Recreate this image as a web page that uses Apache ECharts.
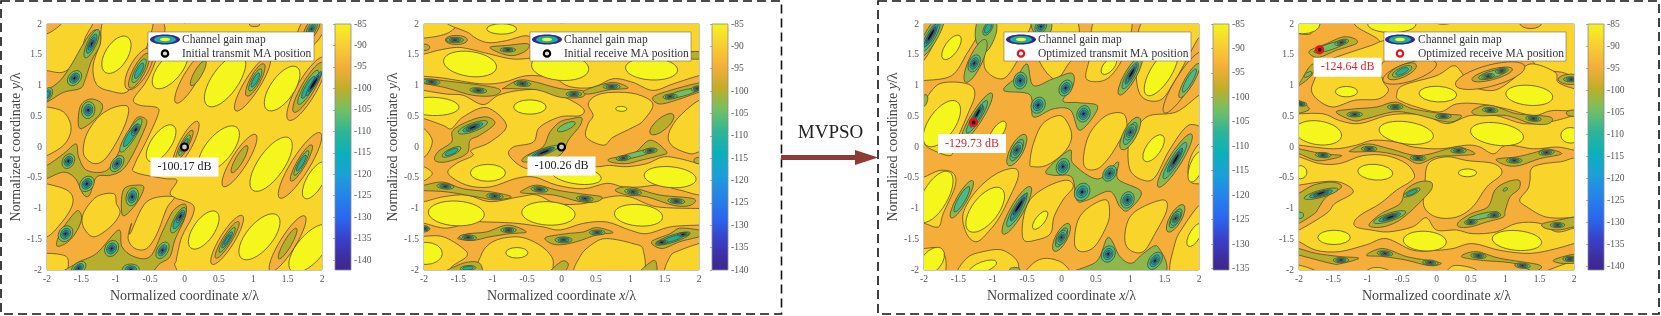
<!DOCTYPE html>
<html><head><meta charset="utf-8">
<style>html,body{margin:0;padding:0;background:#fff}#c{width:1661px;height:316px}canvas{filter:blur(.45px)}</style>
<script src="https://cdn.jsdelivr.net/npm/echarts@6/dist/echarts.min.js"></script>
</head><body><div id="c"></div>
<script>
const panel1Contours=[
[-96,[[-2.1,2.1],[-.42,2.1],[-.4,1.51],[-.55,1.08],[-.74,.78],[-.65,.68],[-.4,.64],[-.39,.51],[-.55,.11],[-.72,-.27],[-.72,-.41],[-.31,-.51],[-.11,-.54],[-.21,-.75],[-.11,-.84],[-.04,-.86],[.13,-.95],[.11,-1.14],[-.04,-1.46],[-.11,-1.78],[-.14,-1.89],[-.31,-2.1],[-2.1,-2.1]]],
[-92,[[-2.1,1.9],[-2,1.84],[-1.79,2],[-1.75,2.1],[-1.33,2.1],[-1.45,1.76],[-1.54,1.43],[-1.76,1.22],[-2,1.24],[-2.1,1.24]]],
[-92,[[-1.13,2.1],[-1.23,1.68],[-1.33,1.32],[-1.28,1.02],[-1.08,.91],[-.82,.91],[-.65,1.35],[-.53,1.7],[-.5,2.1]]],
[-92,[[-2.1,.65],[-2,.65],[-1.76,.57],[-1.65,.32],[-1.74,.05],[-2,-.14],[-2.1,-.14]]],
[-92,[[-1.47,0],[-1.41,.24],[-1.23,.51],[-1.01,.65],[-.82,.65],[-.86,.38],[-1.03,0],[-1.18,-.22],[-1.32,-.27],[-1.45,-.16]]],
[-92,[[-2.1,-.6],[-2,-.6],[-1.71,-.7],[-1.62,-.86],[-1.69,-1.08],[-1.88,-1.35],[-2,-1.46],[-2.1,-1.46]]],
[-92,[[-1.47,-1.3],[-1.47,-1.08],[-1.28,-.81],[-1.03,-.76],[-.99,-.92],[-.94,-1.08],[-1.08,-1.3],[-1.32,-1.46]]],
[-92,[[-2.1,-1.76],[-1.76,-1.76],[-1.69,-1.89],[-1.76,-2.1],[-2.1,-2.1]]],
[-92,[[-.79,-1.41],[-.55,-.89],[-.16,-.81],[-.26,-1],[-.4,-1.41],[-.55,-1.65],[-.72,-1.65],[-.82,-1.49],[-.77,-1.24]]],
[-96,.08,1.11,.43,.11,60],[-96,.99,1.03,.49,.12,58],[-96,1.78,.95,.56,.15,60],[-96,.02,.05,.39,.1,62],[-96,.8,-.22,.47,.12,58],[-96,1.68,-.3,.59,.14,58],[-96,.62,-1.51,.44,.11,58],[-96,1.5,-1.57,.5,.12,58],[-96,1.85,1.92,.35,.18,60],[-96,1.02,2,.08,.04,0],[-96,-.66,1.27,.36,.14,60],
[-87,-.99,1.5,.32,.17,58],[-87,-.21,1.27,.37,.17,50],[-87,.59,1.08,.47,.2,55],[-87,1.42,.95,.4,.18,55],[-87,-.34,.06,.33,.15,55],[-87,.5,-.03,.43,.2,50],[-87,1.26,-.28,.49,.2,55],[-87,1.9,-.54,.32,.13,60],[-87,.28,-1.35,.34,.16,55],[-87,1.09,-1.46,.43,.2,50],[-87,1.83,-1.65,.45,.2,50],
[-100,[[-2.1,.93],[-2,.93],[-1.81,1.08],[-1.64,1.35],[-1.47,1.68],[-1.33,1.89],[-1.23,1.86],[-1.23,1.65],[-1.35,1.41],[-1.45,1.08],[-1.52,.95],[-1.76,.89],[-2,.73],[-2.1,.73]]],
[-100,[[-2.1,-.3],[-2,-.3],[-1.76,-.11],[-1.58,.05],[-1.54,-.16],[-1.42,-.38],[-1.13,-.38],[-.94,-.05],[-.77,.35],[-.67,.49],[-.55,.43],[-.6,.24],[-.77,-.16],[-.91,-.38],[-1.08,-.46],[-1.28,-.49],[-1.38,-.78],[-1.47,-.77],[-1.59,-.51],[-1.76,-.41],[-2,-.51],[-2.1,-.51]]],
[-100,[[-1.52,.65],[-1.37,.78],[-1.2,.7],[-1.25,.51],[-1.52,.3]]],
[-100,[[-.89,-.7],[-.69,-.62],[-.59,-.67],[-.72,-.95],[-.9,-1.11]]],
[-100,[[-1.86,-1.6],[-1.79,-1.36],[-1.59,-1.06],[-1.52,-1.06],[-1.5,-1.19],[-1.59,-1.41],[-1.73,-1.57]]],
[-100,[[-1.75,-2.1],[-1.57,-1.89],[-1.28,-1.73],[-.96,-1.35],[-.91,-1.62],[-.74,-1.78],[-.5,-1.78],[-.31,-1.35],[-.16,-1.03],[.01,-.93],[.01,-1.14],[-.14,-1.51],[-.21,-1.78],[-.35,-1.89],[-.65,-2.1]]]
];
const panel1Wells=[
[-105,-1.35,1.68,.24,.07,65,-140],[-105,-1.6,1.12,.13,.09,50,-140],[-105,-2,.85,.12,.07,60,-118],[-105,-1.4,.6,.13,.1,80,-140],
[-105,-.78,.19,.3,.07,58,-111],[-111,-.71,.28,.1,.05,58,-140],[-105,-1.69,-.23,.12,.09,60,-140],[-105,-.98,-.27,.14,.08,55,-140],[-105,-1.42,-.6,.13,.1,50,-140],[-105,-.76,-.81,.14,.09,75,-140],
[-105,-.09,-1.19,.22,.07,62,-111],[-111,-.06,-1.13,.11,.045,62,-140],[-105,-1.73,-1.41,.13,.1,55,-140],[-105,-1.06,-1.65,.13,.1,60,-140],[-105,-.32,-1.68,.14,.08,58,-140],[-105,-1.54,-1.97,.13,.08,40,-140],[-105,-.78,-1.99,.13,.08,0,-140],
[-100,-.66,1.24,.3,.09,62,-111],[-100,.2,1.2,.22,.06,60,-100],[-100,1.03,1.09,.28,.08,62,-111],[-100,1.8,.97,.44,.1,60,-111],[-118,1.88,1.03,.22,.035,58,-140],[-100,1.85,1.92,.2,.09,60,-140],
[-100,.8,-.2,.24,.06,60,-100],[-100,1.7,-.26,.32,.07,60,-111],[-100,.62,-1.51,.33,.07,58,-118],[-100,1.5,-1.57,.27,.06,60,-100],[-100,0,.03,.26,.06,62,-111]
];
const panel2Contours=[
[-92,[[-2.1,1.77],[-2,1.77],[-1.77,1.81],[-1.6,1.89],[-1.46,2.1],[-2.1,2.1]]],
[-92,[[-1.44,2.1],[-1.33,1.84],[-1.09,1.7],[-.8,1.73],[-.51,1.81],[-.3,1.7],[.4,1.75],[1.2,1.65],[1.7,1.58],[2.1,1.58],[2.1,2.1]]],
[-92,[[-2.1,1.51],[-2,1.51],[-1.8,1.57],[-1.53,1.62],[-1.33,1.59],[-1.04,1.51],[-.7,1.43],[-.36,1.46],[-.3,1.5],[.5,1.5],[1.5,1.45],[2.1,1.42],[2.1,1.16],[2,1.16],[1.63,1.03],[1.33,.92],[1.04,1.05],[.75,1.11],[.46,.97],[.12,.98],[-.12,1.12],[-.51,1.16],[-.85,1.05],[-1.19,1.03],[-1.72,1.12],[-2,1.15],[-2.1,1.15]]],
[-92,[[-2.1,.95],[-2,.92],[-1.67,.86],[-1.43,.84],[-1.14,.69],[-.92,.84],[-.61,.92],[-.22,.93],[.1,.78],[.32,.62],[.27,.51],[-.02,.49],[-.32,.32],[-.41,.08],[-.7,0],[-.76,-.14],[-.51,-.35],[-.12,-.32],[.27,-.27],[.51,-.32],[.7,-.3],[.95,-.32],[1.24,-.27],[1.48,-.16],[1.72,-.19],[2,-.27],[2.1,-.27],[2.1,-.76],[1.72,-.7],[1.43,-.62],[1.14,-.65],[.9,-.65],[.66,-.59],[.32,-.68],[-.07,-.62],[-.39,-.49],[-.66,-.51],[-1.04,-.65],[-1.38,-.62],[-1.65,-.43],[-1.53,-.27],[-1.29,-.14],[-1.31,-.05],[-1.04,.08],[-.8,.35],[-1.09,.64],[-1.43,.49],[-1.6,.3],[-1.72,.35],[-2,.46],[-2.1,.46]]],
[-92,[[.39,.7],[.51,.84],[.75,.89],[1.09,.86],[1.33,.7],[1.19,.43],[1.04,.32],[.75,.16],[.61,.03],[.36,.16],[.39,.38],[.46,.51]]],
[-92,[[2.1,.76],[2,.76],[1.8,.59],[1.63,.38],[1.55,.16],[1.63,0],[1.87,-.11],[2,-.08],[2.1,-.08]]],
[-92,[[-2.1,.3],[-2,.3],[-1.88,.1],[-1.97,-.14],[-2.1,-.14]]],
[-92,[[-2.1,-.32],[-2,-.32],[-1.88,-.43],[-2,-.55],[-2.1,-.55]]],
[-92,[[-2.1,-.89],[-2,-.89],[-1.72,-.81],[-1.38,-.78],[-1.04,-.89],[-.61,-.81],[-.36,-.78],[-.07,-.92],[.32,-.92],[.7,-.81],[.99,-.81],[1.38,-.97],[2,-1],[2.1,-1],[2.1,-1.27],[2,-1.27],[1.58,-1.3],[1.24,-1.41],[.99,-1.35],[.66,-1.22],[.32,-1.24],[-.02,-1.35],[-.27,-1.3],[-.66,-1.24],[-1.09,-1.22],[-1.33,-1.22],[-1.67,-1.32],[-2,-1.24],[-2.1,-1.24]]],
[-92,[[-2.1,-1.45],[-2,-1.45],[-1.72,-1.46],[-1.43,-1.65],[-1.38,-1.78],[-1.6,-1.95],[-1.65,-2.1],[-2.1,-2.1]]],
[-92,[[-1.17,-2.1],[-1.17,-1.76],[-1,-1.54],[-.7,-1.46],[-.46,-1.51],[-.22,-1.68],[-.12,-1.89],[-.27,-2.1]]],
[-92,[[.24,-2.1],[.27,-1.78],[.46,-1.57],[.66,-1.49],[1.04,-1.57],[1.19,-1.68],[1.12,-2.1]]],
[-92,[[1.53,-2.1],[1.58,-1.78],[1.72,-1.68],[2,-1.57],[2.1,-1.57],[2.1,-2.1]]],
[-87,-1.33,1.35,.41,.19,-8],[-87,-.02,1.3,.44,.2,-5],[-87,1.31,1.27,.4,.17,-3],[-87,-.87,1.92,.23,.08,0],[-87,-1.87,.66,.4,.14,-2],[-87,-.46,.65,.25,.11,0],[-87,.87,.62,.085,.035,0],[-87,-1.07,-.42,.27,.13,0],[-87,.22,-.46,.38,.13,-8],[-87,1.58,-.49,.4,.16,-5],[-87,-1.53,-1.08,.43,.19,-3],[-87,-.19,-1.08,.41,.18,-3],[-87,1.12,-1.11,.37,.16,-5],[-87,-1.97,-1.73,.25,.17,0],[-87,-.65,-1.72,.17,.08,0],
[-100,[[-2.1,1.1],[-2,1.11],[-1.72,1.08],[-.95,.96],[-.97,.84],[-1.29,.84],[-1.67,.96],[-2,1.03],[-2.1,1.03]]],
[-100,[[-.84,.96],[-.61,1.09],[-.36,1.05],[-.02,.95],[.32,.91],[.29,.81],[-.02,.81],[-.36,.93],[-.8,.95]]],
[-100,[[.34,.92],[.73,1.05],[.97,.96],[.7,.93],[.39,.86]]],
[-100,[[1.33,.81],[1.58,.92],[2,1.04],[2.1,1],[2.1,.88],[2,.89],[1.72,.78],[1.43,.7]]],
[-100,-1.53,1.74,.17,.07,0],
[-100,[[-1.04,1.62],[-.8,1.65],[-.49,1.68],[-.51,1.57],[-.68,1.49],[-.85,1.51]]],
[-100,[[-1.09,.49],[-.97,.38],[-1.19,.19],[-1.33,.11],[-1.38,-.11],[-1.67,-.24],[-1.84,-.22],[-1.8,-.08],[-1.6,.08],[-1.58,.27],[-1.33,.43]]],
[-100,[[.15,.46],[.29,.48],[.27,.35],[.1,.11],[0,-.11],[-.22,-.22],[-.56,-.24],[-.51,-.14],[-.27,0],[-.17,.24],[-.02,.41]]],
[-100,1.46,.37,.23,.09,40],
[-100,[[.7,-.19],[1.04,-.11],[1.29,.11],[1.53,-.08],[1.43,-.14],[1.14,-.22],[.95,-.27],[.73,-.25]]],
[-100,[[-2.1,-.62],[-2,-.62],[-1.72,-.57],[-1.43,-.68],[-1.02,-.73],[-.73,-.81],[-.97,-.86],[-1.24,-.81],[-1.67,-.73],[-2,-.71],[-2.1,-.71]]],
[-100,[[-.56,-.7],[-.36,-.62],[-.07,-.7],[.27,-.76],[.58,-.81],[.51,-.89],[.27,-.89],[-.12,-.78],[-.56,-.75]]],
[-100,[[.78,-.7],[.99,-.65],[1.43,-.78],[1.92,-.84],[1.87,-.95],[1.63,-.95],[1.24,-.81],[.95,-.78]]],
[-100,[[-1.5,-1.47],[-1.36,-1.41],[-1.09,-1.38],[-.78,-1.27],[-.51,-1.38],[-.75,-1.41],[-1.04,-1.46],[-1.29,-1.52],[-1.48,-1.5]]],
[-100,[[-.23,-1.47],[.07,-1.41],[.32,-1.38],[.51,-1.31],[.75,-1.39],[.51,-1.43],[.22,-1.54],[-.02,-1.59],[-.17,-1.56]]],
[-100,[[1.31,-1.54],[1.58,-1.41],[1.72,-1.32],[2,-1.35],[2.1,-1.4],[2,-1.46],[1.72,-1.54],[1.46,-1.65]]],
[-100,-2,-1.33,.08,.05,0],[-100,-2,1.62,.09,.05,0],[-100,1.95,1.49,.17,.06,0],[-100,2,-.22,.08,.05,0],
[-100,[[-1.77,-2.1],[-1.43,-1.89],[-1.19,-1.89],[-1.21,-2.1]]],
[-100,[[-.22,-2.1],[0,-1.86],[.1,-1.92],[-.02,-2.1]]],
[-100,[[1.09,-2.1],[1.31,-1.86],[1.38,-1.89],[1.36,-2.1]]]
];
const panel2Wells=[
[-105,-1.55,1.74,.13,.04,0,-140],[-105,-.78,1.58,.12,.035,0,-140],[-105,-1.89,1.06,.13,.04,-5,-140],[-105,-1.21,.92,.13,.04,-5,-140],[-105,-.57,1.03,.13,.04,-5,-140],[-105,.18,.86,.12,.04,0,-140],[-105,.73,.98,.13,.04,0,-140],
[-105,1.75,.87,.27,.045,15,-105],[-105,1.58,.82,.11,.04,5,-140],[-105,1.97,.95,.09,.04,10,-140],
[-105,-1.69,-.64,.13,.04,-5,-140],[-105,-.97,-.8,.13,.04,-5,-140],[-105,-.32,-.69,.13,.04,-5,-140],[-105,.34,-.84,.13,.04,-5,-140],[-105,1.04,-.73,.13,.04,-8,-140],[-105,1.67,-.88,.13,.04,-5,-140],
[-105,-1.36,-1.47,.13,.04,-5,-140],[-105,-.77,-1.35,.12,.04,0,-140],[-105,.03,-1.51,.13,.045,0,-140],[-105,.52,-1.39,.12,.04,0,-140],[-105,1.62,-1.49,.28,.055,18,-111],[-111,1.46,-1.55,.09,.03,5,-140],[-111,1.77,-1.42,.09,.03,5,-140],[-105,-1.36,-1.97,.12,.04,5,-111],[-105,-1.98,-1.33,.07,.03,0,-140],
[-105,-1.29,.32,.24,.065,20,-118],[-118,-1.29,.32,.11,.025,20,-140],[-105,-1.6,-.08,.16,.05,25,-111],[-105,.07,.33,.15,.05,25,-105],[-105,-.27,-.08,.26,.05,20,-118],[-118,-.25,-.08,.17,.025,22,-140],
[-105,1.09,-.12,.32,.04,14,-105],[-105,.9,-.18,.11,.04,5,-140],[-105,1.29,-.06,.11,.04,5,-140]
];
const panel3Contours=[
[-92,[[-2.1,.76],[-2,.76],[-1.77,1.03],[-1.38,1.03],[-1.26,.86],[-1.38,.49],[-1.55,.05],[-1.62,-.14],[-1.91,-.03],[-2,.05],[-2.1,.05]]],
[-92,[[-1.74,2.1],[-1.86,1.68],[-2,1.41],[-2.1,1.3],[-2.1,1.08],[-2,1.08],[-1.6,1.16],[-1.38,1.51],[-1.21,1.84],[-1.14,2.1]]],
[-92,[[-.94,2.1],[-1.09,1.68],[-1.11,1.27],[-.85,1.11],[-.63,1.43],[-.51,1.78],[-.46,2.1]]],
[-92,[[-.35,1.5],[-.1,1.1],[.1,1.35],[.25,1.6],[.2,2.1],[-.25,2.1]]],
[-92,[[.41,1.46],[.36,1.11],[.61,1.08],[.8,1.27],[.95,1.62],[1,2.1],[.5,2.1]]],
[-92,[[1.24,2.1],[1.09,1.46],[1.14,.86],[1.43,.76],[1.65,1.08],[1.84,1.46],[2,1.78],[2.1,1.8],[2.1,2.1]]],
[-92,[[1.09,.32],[1.28,.51],[1.67,.57],[2,.84],[2.1,.84],[2.1,.35],[1.84,.35],[1.57,-.05],[1.36,-.49],[1.19,-.54],[1,-.38],[.97,0],[1.04,.22]]],
[-92,[[2.1,.05],[2,.05],[1.88,-.16],[1.84,-.38],[1.88,-.57],[2,-.6],[2.1,-.6]]],
[-92,[[-.46,-.27],[-.41,.05],[-.27,.38],[-.02,.51],[.12,.32],[.14,.11],[.02,-.11],[-.22,-.3],[-.41,-.32]]],
[-92,[[.32,-.16],[.41,.22],[.65,.51],[.9,.54],[.95,.3],[.85,.11],[.7,-.16],[.53,-.35],[.36,-.35]]],
[-92,[[-2.1,-.49],[-2,-.49],[-1.77,-.38],[-1.57,-.43],[-1.55,-.65],[-1.72,-1.08],[-1.79,-1.3],[-2,-1.24],[-2.1,-1.24]]],
[-92,[[-1.38,-1.41],[-1.43,-1.08],[-1.23,-.7],[-.94,-.43],[-.68,-.35],[-.63,-.49],[-.75,-.81],[-.9,-1.14],[-1.04,-1.35],[-1.23,-1.54]]],
[-92,[[-.55,-1.51],[-.36,-1.51],[-.16,-1.41],[-.11,-1.14],[.02,-.86],[.17,-.65],[.07,-.54],[-.22,-.65],[-.46,-.86],[-.56,-1.19]]],
[-92,[[.19,-1.57],[.24,-1.19],[.41,-.97],[.65,-.86],[.7,-1.08],[.65,-1.3],[.48,-1.62],[.29,-1.7]]],
[-92,[[.92,-1.51],[.97,-1.19],[1.14,-1],[1.48,-.86],[1.53,-1.03],[1.36,-1.41],[1.19,-1.7],[1,-1.68]]],
[-92,[[2.1,-.97],[2,-.95],[1.77,-1.3],[1.65,-1.57],[1.6,-2.1],[2.1,-2.1]]],
[-92,[[-2.1,-1.65],[-2,-1.65],[-1.77,-1.65],[-1.68,-1.86],[-1.74,-2.1],[-2.1,-2.1]]],
[-92,[[-1.48,-2.1],[-1.38,-1.81],[-1.14,-1.7],[-.85,-1.68],[-.63,-1.89],[-.75,-2.1]]],
[-92,[[-.51,-2.1],[-.41,-1.89],[-.22,-1.81],[.02,-1.89],[.1,-2.1]]],
[-96,1.77,1.05,.55,.12,58],
[-87,-1.6,1.62,.22,.1,55],[-87,-1.74,.38,.41,.2,55],[-87,-.93,.24,.2,.08,55],[-87,-1.84,-.81,.44,.19,60],[-87,-1.11,-1.02,.41,.2,52],[-87,-.31,-1.19,.17,.07,52],[-87,-1.89,-1.86,.25,.15,50],[-87,-1.14,-1.95,.22,.08,20],[-87,.69,1.32,.16,.08,50],[-87,1.45,1.22,.42,.16,58],[-87,1.34,-.02,.24,.11,55],[-87,1.96,-.32,.25,.1,70],[-87,1.94,-1.43,.2,.08,60],
[-100,[[-.84,.92],[-.65,1.14],[-.5,1.35],[-.41,1],[-.12,1.11],[.15,1.2],[.17,1],[.02,.75],[.25,.72],[.53,.65],[.27,.27],[.13,.6],[-.12,.62],[-.41,.49],[-.46,.85]]],
[-100,[[-.22,-.38],[.12,-.05],[.17,-.27],[.53,-.52],[.82,-.24],[.82,-.52],[1.16,-.73],[.97,-1.03],[.85,-.97],[.7,-.72],[.36,-.87],[.22,-.86],[.15,-.49],[-.12,-.46]]],
[-100,[[.1,-2.1],[.51,-1.86],[.68,-1.47],[.85,-1.78],[1.02,-1.89],[1.19,-1.73],[1.4,-1.62],[1.44,-2.1]]],
[-100,[[-1.2,2.1],[-.98,2.1],[-.95,1.85],[-1.1,1.55],[-1.25,1.75]]],
[-100,[[-.42,2.1],[-.18,2.1],[-.15,1.9],[-.28,1.78],[-.42,1.9]]]
];
const panel3Wells=[
[-100,-1.25,1.4,.36,.1,65,-100],[-105,-1.27,1.36,.14,.08,65,-140],[-100,-1.9,1.8,.38,.1,60,-111],[-118,-1.9,1.82,.22,.035,60,-140],
[-105,-.6,1.08,.13,.1,80,-140],[-105,.06,.96,.13,.09,60,-140],[-105,-.34,.68,.13,.1,60,-140],[-105,.32,.54,.13,.1,70,-140],
[-100,1,.22,.28,.1,62,-105],[-105,1,.24,.13,.07,62,-140],[-100,-.65,-.05,.27,.1,62,-105],[-105,-.65,-.05,.13,.07,62,-140],
[-105,.02,-.32,.13,.1,70,-140],[-105,.7,-.43,.13,.09,55,-140],[-105,.3,-.73,.14,.11,60,-140],[-105,.96,-.86,.13,.1,70,-140],
[-100,-.65,-1.03,.42,.1,60,-111],[-118,-.62,-.96,.24,.035,58,-140],[-100,-1.45,-.85,.33,.08,60,-105],
[-100,0,-1.47,.24,.09,62,-105],[-105,0,-1.47,.12,.07,62,-140],[-100,1.66,-1.16,.24,.09,60,-105],[-105,1.66,-1.16,.12,.06,60,-140],
[-105,.68,-1.74,.13,.1,65,-140],[-105,1.36,-1.85,.15,.09,55,-140],[-100,-.68,-2,.08,.04,0,-100],
[-100,1.65,-.22,.48,.1,58,-111],[-118,1.66,-.2,.2,.03,60,-140],[-100,1,1.16,.34,.09,60,-111],[-118,1.02,1.2,.16,.03,60,-140],[-100,1.86,1.08,.3,.07,60,-105],
[-100,-2,.75,.1,.05,70,-100],[-100,-1.23,.49,.43,.09,58,-111],[-118,-1.22,.55,.15,.03,60,-140],[-105,-.3,1.96,.12,.08,60,-140],[-105,-1.07,1.93,.12,.06,60,-111]
];
const panel4Contours=[
[-92,[[-2.1,1.84],[-2,1.84],[-1.82,1.85],[-1.72,2.1],[-2.1,2.1]]],
[-92,[[-1,2.1],[-.85,1.75],[-.55,1.55],[.2,1.75],[1,1.7],[1.35,1.45],[1.5,1.28],[1.8,1.22],[2.1,1.22],[2.1,2.1]]],
[-92,[[-1.77,1.11],[-1.7,1.35],[-1.46,1.46],[-1.17,1.57],[-.95,1.65],[-.73,1.73],[-.5,1.6],[-.8,1.35],[-.78,1.08],[-.7,.92],[-.85,.78],[-1.19,.76],[-1.5,.65],[-1.72,.76],[-1.82,.92]]],
[-92,[[-.58,.84],[-.49,1],[0,1.16],[.24,1.32],[.36,1.22],[.49,1],[.83,.92],[1.12,1.11],[1.36,1.35],[1.72,1.22],[1.77,1.05],[2,.95],[2.1,.95],[2.1,.62],[1.67,.59],[1.41,.51],[1.02,.62],[.63,.7],[.29,.7],[.05,.57],[-.29,.65],[-.54,.76]]],
[-96,.78,1.16,.55,.16,15],[-96,-.39,1.22,.43,.14,18],[-96,1.37,2.02,.17,.09,0],[-96,.1,2.05,.15,.05,0],
[-92,[[-2.1,.54],[-2,.54],[-1.65,.54],[-1.41,.43],[-1.12,.38],[-.73,.51],[-.44,.54],[-.15,.51],[.15,.38],[.49,.51],[.87,.51],[1.26,.38],[1.65,.41],[2,.51],[2.1,.51],[2.1,-.05],[2,-.05],[1.75,0],[1.41,-.03],[1.02,.03],[.83,-.11],[.63,0],[.44,.03],[.05,-.03],[-.34,0],[-.58,.08],[-.92,.11],[-1.17,.03],[-1.5,-.03],[-2,.03],[-2.1,.03]]],
[-92,[[-2.1,-.16],[-2,-.16],[-1.7,-.27],[-1.41,-.27],[-1.07,-.14],[-.73,-.14],[-.44,-.27],[-.32,-.46],[-.39,-.57],[-.58,-.7],[-.82,-.92],[-1.07,-1.08],[-1.19,-1.2],[-1.17,-1.3],[-.95,-1.35],[-.7,-1.38],[-.35,-1.3],[-.15,-1.15],[0,-1.35],[.29,-1.35],[.53,-1.41],[.87,-1.38],[1.17,-1.24],[1.5,-1.24],[1.75,-1.38],[2,-1.32],[2.1,-1.32],[2.1,-1.57],[2,-1.57],[1.75,-1.65],[1.36,-1.73],[.92,-1.68],[.53,-1.57],[.24,-1.65],[0,-1.68],[-.34,-1.68],[-.73,-1.49],[-1.02,-1.59],[-1.41,-1.7],[-1.75,-1.68],[-2,-1.54],[-2.1,-1.54],[-2.1,-1.35],[-2,-1.35],[-1.6,-1.08],[-1.48,-.92],[-1.21,-.73],[-1.41,-.57],[-1.7,-.57],[-2,-.62],[-2.1,-.62]]],
[-92,[[-.12,-.27],[.15,-.16],[.44,-.22],[.83,-.27],[.95,-.43],[.73,-.65],[.53,-.97],[.29,-1.14],[0,-1.14],[-.18,-.97],[-.17,-.65]]],
[-92,[[1.36,-.54],[1.41,-.32],[1.8,-.24],[2.1,-.24],[2.1,-1.05],[2,-1.14],[1.6,-1.14],[1.31,-.97],[1.21,-.86],[1.33,-.68]]],
[-92,[[-2.1,-1.92],[-2,-1.92],[-1.78,-2],[-1.7,-2.1],[-2.1,-2.1]]],
[-92,[[-1.05,-2.1],[-.95,-1.97],[-.75,-1.98],[-.6,-2.1]]],
[-92,[[.15,-2.1],[.25,-1.93],[.55,-1.98],[.6,-2.1]]],
[-92,[[1.5,-2.1],[1.75,-1.95],[2.1,-1.85],[2.1,-2.1]]],
[-87,-1.31,.9,.17,.08,0],[-87,.02,.86,.29,.12,-3],[-87,1.35,.84,.36,.15,-5],[-87,-1.72,.23,.36,.18,-8],[-87,-.44,.23,.42,.17,-8],[-87,.88,.21,.41,.17,-8],[-87,1.95,.19,.15,.12,0],[-87,-.89,-.41,.27,.12,-5],[-87,.45,-.42,.14,.06,0],[-87,-1.98,-.41,.1,.1,0],[-87,-1.49,-1.47,.25,.11,0],[-87,-.17,-1.53,.33,.15,-3],[-87,1.17,-1.52,.38,.15,-5],[-87,-1.95,2,.27,.15,0],[-87,-.65,2,.37,.13,0],
[-100,[[-1.84,1.57],[-1.6,1.68],[-1.36,1.79],[-1.19,1.76],[-1.17,1.68],[-1.46,1.57],[-1.7,1.46],[-1.82,1.49]]],
[-100,[[-2.1,1],[-2,1.03],[-1.87,1.27],[-1.8,1.35],[-1.77,1.3],[-1.82,1.16],[-2,1]]],
[-100,[[-2.1,.76],[-2,.76],[-1.85,.62],[-2,.55],[-2.1,.55]]],
[-100,[[-1.46,.57],[-1.19,.62],[-.87,.65],[-.6,.73],[-.34,.62],[.1,.54],[.36,.51],[.24,.41],[.05,.43],[-.34,.54],[-.63,.57],[-1.02,.46],[-1.21,.43]]],
[-100,[[.52,.59],[.77,.68],[1.17,.54],[1.65,.49],[1.63,.38],[1.38,.38],[1.02,.51],[.62,.51]]],
[-100,2,.55,.12,.05,0],
[-100,[[-2.1,0],[-2,-.03],[-1.65,-.11],[-1.38,-.14],[-1.55,-.2],[-1.75,-.22],[-2,-.11],[-2.1,-.11]]],
[-100,[[-1.24,-.05],[-1,.05],[-.68,-.03],[-.26,-.14],[.17,-.03],[.34,0],[.56,-.11],[.29,-.14],[0,-.16],[-.26,-.27],[-.49,-.16],[-.83,-.08],[-1.22,-.08]]],
[-100,[[.87,-.2],[1.17,-.16],[1.46,-.08],[1.6,-.03],[1.82,-.11],[1.5,-.19],[1.21,-.3],[1.02,-.3]]],
[-100,[[-2.1,-.75],[-2,-.75],[-1.79,-.62],[-1.52,-.57],[-1.38,-.65],[-1.6,-.81],[-1.72,-1],[-1.77,-1.08],[-2,-1.24],[-2.1,-1.24]]],
[-100,[[-.97,-1.24],[-.8,-1.08],[-.53,-.92],[-.45,-.7],[-.26,-.57],[-.08,-.57],[-.08,-.7],[-.26,-.92],[-.41,-1.08],[-.58,-1.22],[-.78,-1.3],[-.95,-1.3]]],
[-100,[[.32,-1.22],[.51,-1.08],[.75,-.97],[.85,-.7],[1.02,-.57],[1.2,-.54],[1.2,-.68],[1.07,-.81],[1,-1.03],[.97,-1.14],[.73,-1.22],[.49,-1.3],[.33,-1.3]]],
[-100,[[1.54,-1.25],[1.77,-1.19],[2,-1.14],[2.1,-1.15],[2.1,-1.3],[2,-1.3],[1.77,-1.35],[1.58,-1.32]]],
[-100,[[-2.1,-1.62],[-2,-1.65],[-1.75,-1.73],[-1.41,-1.78],[-1.13,-1.81],[-1.41,-1.9],[-1.55,-1.89],[-2,-1.76],[-2.1,-1.76]]],
[-100,[[-1.02,-1.76],[-.78,-1.65],[-.44,-1.78],[-.15,-1.84],[.07,-1.89],[-.1,-1.93],[-.44,-1.84],[-.78,-1.78]]],
[-100,[[.36,-1.78],[.58,-1.7],[.92,-1.81],[1.5,-1.92],[1.41,-2.02],[1.12,-1.89],[.63,-1.84]]],
[-100,[[1.7,-1.84],[1.92,-1.76],[2.03,-1.76],[2.1,-1.85],[2,-1.89],[1.8,-1.89]]]
];
const panel4Wells=[
[-105,-1.55,1.63,.26,.05,18,-105],[-105,-1.38,1.7,.11,.04,15,-140],[-105,-1.87,1.18,.07,.03,30,-105],
[-100,-.5,1.23,.24,.09,25,-111],[-100,.81,1.18,.32,.08,15,-105],[-105,.75,1.15,.1,.04,10,-140],[-105,.95,1.24,.1,.04,10,-140],[-100,1.96,1.1,.2,.08,0,-100],[-105,1.96,1.1,.12,.04,0,-140],
[-105,-1.97,.7,.09,.035,-5,-140],[-105,-1.19,.53,.12,.04,0,-140],[-105,-.6,.65,.12,.04,0,-140],[-105,.1,.5,.12,.04,0,-140],[-105,.78,.6,.12,.04,-5,-140],[-105,1.41,.46,.12,.04,-5,-140],
[-105,-1.65,-.13,.12,.04,-3,-140],[-105,-.98,-.03,.12,.04,0,-140],[-105,-.27,-.18,.12,.04,-3,-140],[-105,.32,-.06,.12,.04,0,-140],[-105,1.13,-.22,.12,.04,0,-140],[-105,1.6,-.09,.12,.04,5,-140],
[-105,-1.68,-.76,.27,.055,15,-118],[-118,-1.68,-.75,.12,.022,18,-140],[-105,-2,-1.11,.07,.05,0,-105],[-105,-.36,-.74,.14,.04,25,-111],[-105,-.68,-1.14,.26,.06,18,-118],[-118,-.67,-1.14,.12,.022,20,-140],
[-105,.68,-1.12,.24,.04,13,-105],[-105,.5,-1.22,.1,.04,5,-140],[-105,.84,-1.11,.1,.04,5,-140],[-105,1,-.69,.04,.02,30,-105],[-105,1.76,-1.27,.11,.04,0,-140],
[-105,-1.39,-1.84,.12,.04,0,-140],[-105,-.75,-1.73,.12,.04,-5,-140],[-105,-.09,-1.88,.12,.04,-5,-140],[-105,.61,-1.77,.12,.04,-5,-140],[-105,1.25,-1.93,.12,.04,-5,-140],[-105,1.94,-1.82,.11,.04,0,-140]
];
const colorbarLimits=[[-142.3,-85],[-140,-85],[-135.3,-85],[-140.8,-85]];
const colorbarTicks=[-85,-90,-95,-100,-105,-110,-115,-120,-125,-130,-135,-140];
const markerPositions=[[0,0],[0,0],[-1.28,.4],[-1.7,1.58]];
const markerGains=['-100.17 dB','-100.26 dB','-129.73 dB','-124.64 dB'];
const legendMarkerNames=['Initial transmit MA position','Initial receive MA position','Optimized transmit MA position','Optimized receive MA position'];

/* ---- presentation ---- */
const FONT='"Liberation Serif"';
const levelColor={'-87':'#f5f71c','-92':'#f9d42b','-96':'#f6ae3b','-100':'#b6ae2c','-105':'#6fbf68','-111':'#1fae9c','-118':'#12a0c6','-128':'#1c5fc0','-140':'#0d0d28'};
const depth=[-100,-105,-111,-118,-128,-140];
const shrink=[1,.68,.44,.27,.13,.07];
const colormap=[[0,'#f5f41f'],[.088,'#f8cf32'],[.175,'#f5ae38'],[.263,'#c0ae28'],[.351,'#72c065'],[.44,'#2cb598'],[.526,'#0bb0bb'],[.614,'#1ba0d8'],[.7,'#2583ea'],[.79,'#2a66ee'],[.877,'#3a3fc8'],[.965,'#3e2a98'],[1,'#3d2790']];
const layout=[{x:47,cb:335,lx:148,lw:166,ic:165,tx:182,off:[0,20]},{x:424,cb:712,lx:530,lw:161,ic:547,tx:564,off:[0,19]},{x:924,cb:1213,lx:1004,lw:187,ic:1021,tx:1038,off:[-1.5,21]},{x:1299,cb:1588,lx:1384,lw:182,ic:1400,tx:1418,off:[28,17.5]}];
const baseLevel=[-92,-96,-96,-96];
const TOP=24,H=246,W=275;
const panelContours=[panel1Contours,panel2Contours,panel3Contours,panel4Contours];
const panelWells=[panel1Wells,panel2Wells,panel3Wells,panel4Wells];
function flatten(i){
 const out=[{k:'base',lvl:baseLevel[i]}];
 panelContours[i].forEach(c=>out.push(Array.isArray(c[1])?{k:'poly',lvl:c[0],pts:c[1]}:{k:'ell',lvl:c[0],e:c.slice(1)}));
 panelWells[i].forEach(w=>{
  const a=depth.indexOf(w[0]),b=depth.indexOf(w[6]),n=b-a+1;
  for(let j=0;j<n;j++){const s=shrink[j];out.push({k:'ell',lvl:depth[a+j],e:[w[1],w[2],w[3]*s,w[4]*s,w[5]]});}
 });
 return out;
}
function closedSpline(p){
 const n=p.length;let d=`M${p[0][0].toFixed(1)} ${p[0][1].toFixed(1)}`;
 for(let i=0;i<n;i++){
  const a=p[(i-1+n)%n],b=p[i],c=p[(i+1)%n],e=p[(i+2)%n];
  d+=`C${(b[0]+(c[0]-a[0])/6).toFixed(1)} ${(b[1]+(c[1]-a[1])/6).toFixed(1)} ${(c[0]-(e[0]-b[0])/6).toFixed(1)} ${(c[1]-(e[1]-b[1])/6).toFixed(1)} ${c[0].toFixed(1)} ${c[1].toFixed(1)}`;
 }
 return d+'Z';
}
const LINE={stroke:'#4e4826',lineWidth:.75};
function mapRender(items,panel){return (params,api)=>{
 const it=items[params.dataIndex];
 let fill=levelColor[it.lvl];
 if(panel===2&&it.lvl===-100)fill='#8fb84c';
 if(panel===2&&it.lvl===-105)fill='#4cb98a';
 if(it.k==='base'){const a=api.coord([-2,2]),b=api.coord([2,-2]);return {type:'rect',shape:{x:a[0],y:a[1],width:b[0]-a[0],height:b[1]-a[1]},style:{fill}};}
 if(it.k==='poly'){return {type:'path',shape:{pathData:closedSpline(it.pts.map(p=>api.coord(p)))},style:{fill,...LINE}};}
 const [cx,cy,ea,eb,ang]=it.e;const c=api.coord([cx,cy]);const s=api.size([1,1]);const u=(s[0]+s[1])/2;
 const ra=ea*u,rb=eb*u,t=ang*Math.PI/180,dx=ra*Math.cos(t),dy=-ra*Math.sin(t);
 const d=`M${(c[0]-dx).toFixed(2)} ${(c[1]-dy).toFixed(2)}A${ra.toFixed(2)} ${rb.toFixed(2)} ${-ang} 1 0 ${(c[0]+dx).toFixed(2)} ${(c[1]+dy).toFixed(2)}A${ra.toFixed(2)} ${rb.toFixed(2)} ${-ang} 1 0 ${(c[0]-dx).toFixed(2)} ${(c[1]-dy).toFixed(2)}Z`;
 return {type:'path',shape:{pathData:d},style:{fill,...(it.lvl===-140?{}:LINE)}};
};}
const grid=[],xAxis=[],yAxis=[],series=[],graphic=[];
const tickStyle={color:'#555',fontFamily:FONT,fontSize:9.5};
const nameStyle={fontFamily:FONT,fontSize:14,color:'#444',rich:{i:{fontFamily:FONT,fontSize:14,color:'#444',fontStyle:'italic'}}};
layout.forEach((L,i)=>{
 grid.push({left:L.x,top:TOP,width:W,height:H,show:true,borderColor:'#8c8c8c',borderWidth:1});
 grid.push({left:L.cb,top:TOP,width:16,height:H});
 const axisLine={show:true,lineStyle:{color:'#8c8c8c',width:1}};
 xAxis.push({gridIndex:2*i,type:'value',min:-2,max:2,interval:.5,axisLine,axisTick:{show:false},splitLine:{show:false},axisLabel:{...tickStyle,margin:4},name:'Normalized coordinate {i|x}/λ',nameLocation:'middle',nameGap:16,nameTextStyle:nameStyle});
 yAxis.push({gridIndex:2*i,type:'value',min:-2,max:2,interval:.5,axisLine,axisTick:{show:false},splitLine:{show:false},axisLabel:{...tickStyle,margin:5},name:i===3?'':'Normalized coordinate {i|y}/λ',nameLocation:'middle',nameGap:22.5,nameTextStyle:nameStyle});
 const lim=colorbarLimits[i];const vals=colorbarTicks.filter(v=>v>=lim[0]);
 xAxis.push({gridIndex:2*i+1,type:'value',show:false,min:0,max:1});
 yAxis.push({gridIndex:2*i+1,type:'value',position:'right',min:lim[0],max:lim[1],axisLine:{show:false},splitLine:{show:false},axisTick:{show:true,inside:true,length:2,customValues:vals,lineStyle:{color:'#777',width:.6}},axisLabel:{...tickStyle,margin:3,customValues:vals}});
 const items=flatten(i);
 series.push({type:'custom',name:'Channel gain map',xAxisIndex:2*i,yAxisIndex:2*i,clip:true,silent:true,animation:false,renderItem:mapRender(items,i),data:items.map((_,j)=>[j]),encode:{x:-1,y:-1},z:2});
 series.push({type:'custom',xAxisIndex:2*i+1,yAxisIndex:2*i+1,silent:true,animation:false,data:[[0,lim[0],lim[1]]],encode:{x:-1,y:-1},z:2,renderItem:(p,api)=>{const a=api.coord([0,lim[1]]),b=api.coord([1,lim[0]]);
   return {type:'rect',shape:{x:a[0],y:a[1],width:b[0]-a[0],height:b[1]-a[1]},style:{stroke:'#8c8c8c',lineWidth:.8,fill:{type:'linear',x:0,y:0,x2:0,y2:1,colorStops:colormap.map(c=>({offset:c[0],color:c[1]}))}}};}});
 const red=i>=2;
 series.push({type:'scatter',name:legendMarkerNames[i],xAxisIndex:2*i,yAxisIndex:2*i,data:[markerPositions[i]],symbol:'circle',symbolSize:red?6.5:7,animation:false,silent:true,z:6,
  itemStyle:{opacity:1,color:red?'#111':'#c9c9c9',borderColor:red?'#e8141c':'#000',borderWidth:red?2.8:2.2},
  label:{show:true,formatter:markerGains[i],position:'inside',offset:L.off,backgroundColor:'#fff',padding:[4,7,3,7],fontFamily:FONT,fontSize:12,color:red?'#d8262c':'#222'}});
 const z=20;
 graphic.push({type:'rect',z,silent:true,shape:{x:L.lx,y:32,width:L.lw,height:29},style:{fill:'#fff',stroke:'#555',lineWidth:.5}});
 graphic.push({type:'ellipse',z,silent:true,shape:{cx:L.ic,cy:39.5,rx:15,ry:5},style:{fill:'#312a8c'}});
 graphic.push({type:'ellipse',z,silent:true,shape:{cx:L.ic,cy:39.5,rx:11,ry:3.6},style:{fill:'#1fae9c'}});
 graphic.push({type:'ellipse',z,silent:true,shape:{cx:L.ic,cy:39.5,rx:5,ry:1.7},style:{fill:'#f5f71c'}});
 graphic.push({type:'circle',z,silent:true,shape:{cx:L.ic,cy:53.5,r:3.2},style:{fill:red?'#fff':'#ddd',stroke:red?'#e8141c':'#000',lineWidth:2.2}});
 graphic.push({type:'text',z,silent:true,style:{x:L.tx,y:39.5,text:'Channel gain map',fontFamily:FONT,fontSize:11.5,fill:'#333',verticalAlign:'middle'}});
 graphic.push({type:'text',z,silent:true,style:{x:L.tx,y:53.5,text:legendMarkerNames[i],fontFamily:FONT,fontSize:11.5,fill:'#333',verticalAlign:'middle'}});
});
graphic.push({type:'rect',z:1,silent:true,shape:{x:1,y:1,width:780.5,height:313},style:{fill:'none',stroke:'#111',lineWidth:1.6,lineDash:[9,5]}});
graphic.push({type:'rect',z:1,silent:true,shape:{x:878,y:1,width:781,height:313},style:{fill:'none',stroke:'#111',lineWidth:1.6,lineDash:[9,5]}});
graphic.push({type:'text',z:1,style:{x:830.5,y:133,text:'MVPSO',fontFamily:FONT,fontSize:19,fill:'#222',align:'center',verticalAlign:'middle'}});
graphic.push({type:'polygon',z:1,silent:true,shape:{points:[[781,155],[855,155],[855,150],[878,157.5],[855,165],[855,160],[781,160]]},style:{fill:'#8e3a36'}});
const chart=echarts.init(document.getElementById('c'),null,{renderer:'canvas'});
chart.setOption({animation:false,grid,xAxis,yAxis,series,graphic,backgroundColor:'#fff'});
</script></body></html>
